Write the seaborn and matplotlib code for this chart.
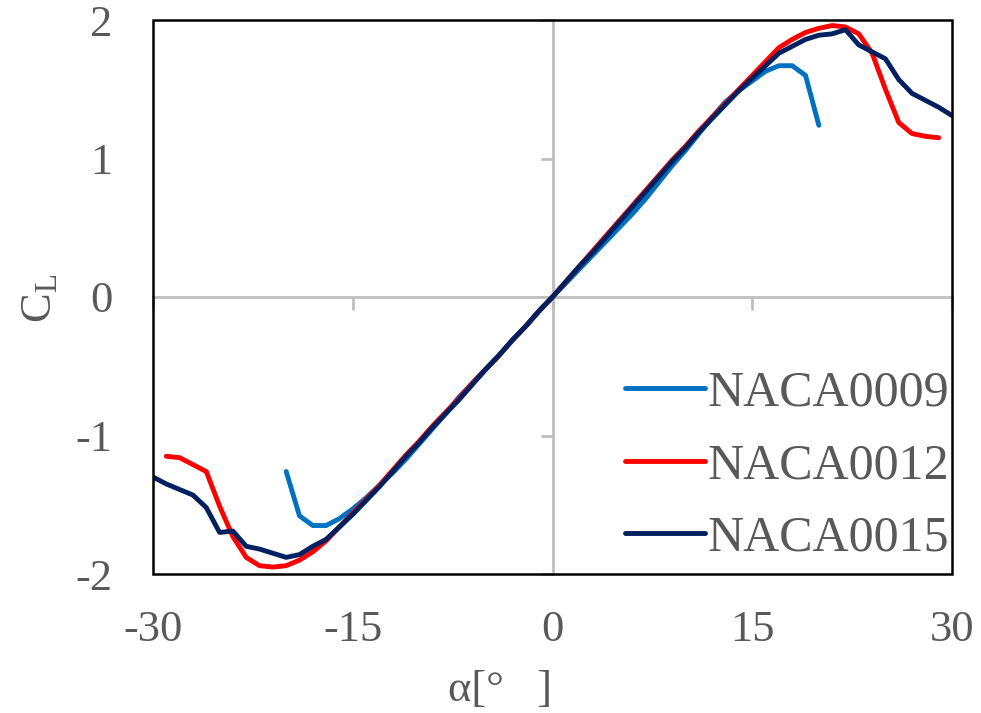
import numpy as np
import pandas as pd
import matplotlib
matplotlib.use("Agg")
import matplotlib.pyplot as plt
import seaborn as sns
from matplotlib.patches import Rectangle

# ---- data ----
alpha_0009 = list(range(-20, 21))
cl_0009 = [-1.26, -1.58, -1.65, -1.65, -1.60, -1.53, -1.45, -1.36, -1.27, -1.17,
           -1.06, -0.95, -0.84, -0.72, -0.62, -0.52, -0.42, -0.31, -0.21, -0.10,
           0.00, 0.10, 0.20, 0.30, 0.40, 0.50, 0.60, 0.71, 0.83, 0.95,
           1.06, 1.18, 1.30, 1.41, 1.49, 1.56, 1.63, 1.67, 1.67, 1.60, 1.24]

alpha_0012 = list(range(-29, 30))
cl_0012 = [-1.15, -1.16, -1.21, -1.26, -1.51, -1.73, -1.88, -1.94, -1.95, -1.94,
           -1.90, -1.84, -1.76, -1.66, -1.56, -1.46, -1.36, -1.25, -1.14, -1.04,
           -0.93, -0.83, -0.73, -0.62, -0.52, -0.42, -0.31, -0.21, -0.10, 0.00,
           0.11, 0.22, 0.33, 0.44, 0.55, 0.66, 0.77, 0.88, 0.99, 1.09,
           1.20, 1.30, 1.40, 1.50, 1.60, 1.70, 1.80, 1.86, 1.91, 1.94,
           1.96, 1.95, 1.90, 1.76, 1.50, 1.26, 1.18, 1.16, 1.15]

alpha_0015 = list(range(-30, 31))
cl_0015 = [-1.30, -1.35, -1.39, -1.43, -1.52, -1.70, -1.69, -1.80, -1.82, -1.85,
           -1.88, -1.86, -1.80, -1.75, -1.66, -1.57, -1.47, -1.37, -1.26, -1.15,
           -1.05, -0.94, -0.84, -0.74, -0.63, -0.52, -0.42, -0.31, -0.21, -0.10,
           0.00, 0.11, 0.22, 0.32, 0.43, 0.54, 0.65, 0.76, 0.87, 0.98,
           1.08, 1.19, 1.29, 1.39, 1.49, 1.58, 1.67, 1.76, 1.81, 1.86,
           1.89, 1.90, 1.93, 1.82, 1.77, 1.72, 1.57, 1.47, 1.42, 1.37, 1.31]

series_names = ["NACA0009", "NACA0012", "NACA0015"]
series_colors = ["#0070C0", "#FF0000", "#002060"]
x_ticks = [-30, -15, 0, 15, 30]
y_ticks = [-2, -1, 0, 1, 2]
x_label = "α[°   ]"
y_label = r"$\mathregular{C_L}$"

df = pd.concat([
    pd.DataFrame({"alpha": alpha_0009, "CL": cl_0009, "airfoil": series_names[0]}),
    pd.DataFrame({"alpha": alpha_0012, "CL": cl_0012, "airfoil": series_names[1]}),
    pd.DataFrame({"alpha": alpha_0015, "CL": cl_0015, "airfoil": series_names[2]}),
], ignore_index=True)

sns.set_theme(style="white")
plt.rcParams["font.family"] = ["Liberation Serif", "DejaVu Serif"]
plt.rcParams["mathtext.fontset"] = "custom"
plt.rcParams["mathtext.rm"] = "Liberation Serif"

txt_color = "#595959"
grey = "#BFBFBF"
lw = 3.5

fig = plt.figure(figsize=(9.81, 7.13), dpi=100)
ax = fig.add_axes([153 / 981, 1 - 574 / 713, (952 - 153) / 981, (574 - 20) / 713])

sns.lineplot(data=df, x="alpha", y="CL", hue="airfoil", hue_order=series_names,
             palette=series_colors, linewidth=lw, sort=False, estimator=None,
             ax=ax, zorder=3)

ax.set_xlim(-30, 30)
ax.set_ylim(-2, 2)
ax.set_xticks(x_ticks)
ax.set_yticks(y_ticks)
ax.set_xticklabels([str(t) for t in x_ticks])
ax.set_yticklabels([str(t) for t in y_ticks])
ax.tick_params(axis="both", length=0, labelsize=32, labelcolor=txt_color)
ax.tick_params(axis="x", pad=26)
ax.tick_params(axis="y", pad=29)
ax.set_xlabel("")
ax.set_ylabel("")
for s in ax.spines.values():
    s.set_visible(False)
ax.add_patch(Rectangle((0, 0), 1, 1, transform=ax.transAxes, fill=False,
                       edgecolor="black", linewidth=1.8, zorder=5, clip_on=False))

# zero axes with small tick marks
secx = ax.secondary_xaxis(0.5)
secx.set_alignment("bottom")
secx.set_xticks(x_ticks)
secx.set_xticklabels([""] * len(x_ticks))
secx.tick_params(direction="out", length=9, width=2, color=grey)
for s in secx.spines.values():
    s.set_color(grey)
    s.set_linewidth(2)
secx.set_zorder(1)

secy = ax.secondary_yaxis(0.5)
secy.set_alignment("left")
secy.set_yticks(y_ticks)
secy.set_yticklabels([""] * len(y_ticks))
secy.tick_params(direction="out", length=9, width=2, color=grey)
for s in secy.spines.values():
    s.set_color(grey)
    s.set_linewidth(2)
secy.set_zorder(1)

leg = ax.legend(loc="lower right", bbox_to_anchor=(1.006, 0.009), frameon=False,
                fontsize=36, handlelength=1.6, handletextpad=0.05,
                labelspacing=0.52, borderaxespad=0.0, borderpad=0.15)
for t in leg.get_texts():
    t.set_color(txt_color)
for h in leg.get_lines():
    h.set_linewidth(lw)

fig.text(500 / 981, 1 - 690 / 713, x_label, ha="center", va="center",
         fontsize=32, color=txt_color)
fig.text(40 / 981, 1 - 298 / 713, y_label, ha="center", va="center",
         rotation=90, fontsize=32, color=txt_color)

fig.savefig("out.png", dpi=100)
